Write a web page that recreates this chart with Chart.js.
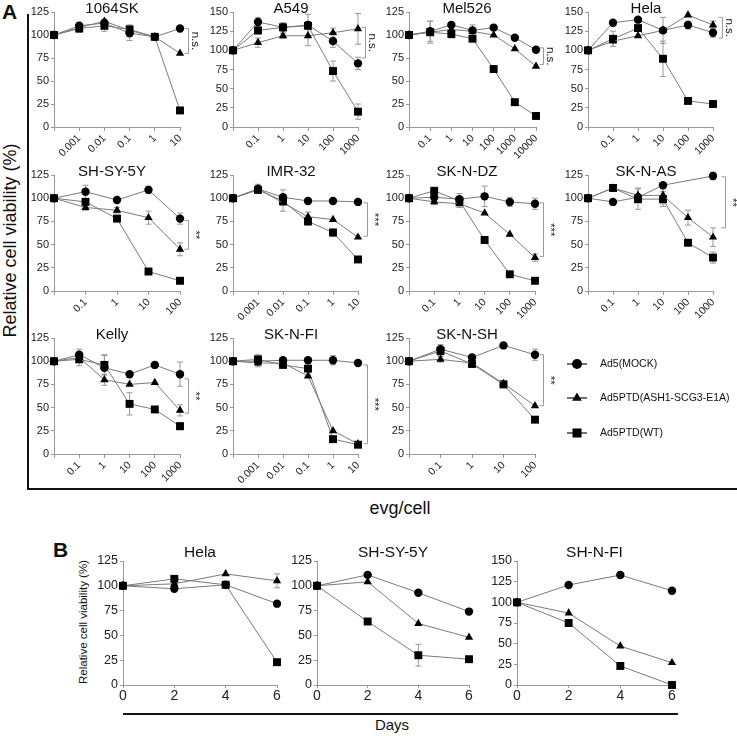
<!DOCTYPE html>
<html lang="en">
<head>
<meta charset="UTF-8" />
<title>Relative cell viability</title>
<script src="https://cdn.jsdelivr.net/npm/chart.js"></script>
<style>
  body { margin: 0; background: #fff; width: 737px; height: 736px; position: relative; overflow: hidden;
         font-family: "Liberation Sans", Arial, sans-serif; color: #111; }
  canvas { position: absolute; }
  .txt { position: absolute; white-space: nowrap; }
</style>
</head>
<body>
<div class="txt" style="left:2px;top:0px;font-size:21px;font-weight:bold;">A</div>
<div class="txt" style="left:53px;top:538px;font-size:21px;font-weight:bold;">B</div>
<div style="position:absolute;left:27px;top:14px;width:2px;height:476px;background:#111;"></div>
<div style="position:absolute;left:27px;top:488px;width:720px;height:2px;background:#111;"></div>
<div class="txt" style="left:-110px;top:230px;width:240px;text-align:center;font-size:18px;transform:rotate(-90deg);">Relative cell viability (%)</div>
<div class="txt" style="left:330px;top:498px;width:140px;text-align:center;font-size:18px;">evg/cell</div>
<div class="txt" style="left:-17px;top:616px;width:200px;text-align:center;font-size:11.5px;transform:rotate(-90deg);">Relative cell viability (%)</div>
<div style="position:absolute;left:123px;top:713px;width:555px;height:2px;background:#111;"></div>
<div class="txt" style="left:342px;top:716px;width:100px;text-align:center;font-size:15px;">Days</div>

<script>
  // ---- data ----
  const ticks1064SK = ['', '0.001', '0.01', '0.1', '1', '10'];
  const mock1064SK = [100, 110, 113, 102, 98, 107];
  const ash1064SK = [100, 108, 115, 105, 98, 80];
  const wt1064SK = [100, 107, 110, 106, 98, 18];
  const errMock1064SK = [0, 3, 4, 8, 0, 0];
  const errWt1064SK = [0, 4, 6, 5, 0, 0];
  const sig1064SK = [107, 80, 'n.s.'];

  const ticksA549 = ['', '0.1', '1', '10', '100', '1000'];
  const mockA549 = [100, 137, 130, 133, 112, 83];
  const ashA549 = [100, 110, 119, 119, 123, 128];
  const wtA549 = [100, 126, 130, 132, 73, 20];
  const errMockA549 = [0, 6, 4, 4, 8, 8];
  const errAshA549 = [0, 6, 3, 13, 6, 20];
  const errWtA549 = [0, 5, 6, 15, 13, 10];
  const sigA549 = [130, 90, 'n.s.'];

  const ticksMel526 = ['', '0.1', '1', '10', '100', '1000', '10000'];
  const mockMel526 = [100, 104, 111, 105, 108, 97, 84];
  const ashMel526 = [100, 103, 106, 104, 100, 85, 66];
  const wtMel526 = [100, 103, 101, 96, 63, 27, 12];
  const errMockMel526 = [0, 11, 3, 6, 3, 0, 0];
  const errWtMel526 = [0, 12, 4, 3, 0, 0, 0];
  const sigMel526 = [86, 68, 'n.s.'];

  const ticksHela = ['', '0.1', '1', '10', '100', '1000'];
  const mockHela = [100, 136, 140, 126, 133, 123];
  const ashHela = [100, 112, 119, 126, 146, 133];
  const wtHela = [100, 115, 129, 89, 34, 30];
  const errMockHela = [0, 0, 0, 0, 5, 6];
  const errAshHela = [0, 7, 0, 17, 0, 5];
  const errWtHela = [0, 10, 4, 23, 0, 0];
  const sigHela = [143, 116, 'n.s.'];

  const ticksSHSY5Y = ['', '0.1', '1', '10', '100'];
  const mockSHSY5Y = [100, 107, 98, 109, 78];
  const ashSHSY5Y = [100, 90, 87, 79, 45];
  const wtSHSY5Y = [100, 96, 78, 21, 11];
  const errMockSHSY5Y = [0, 7, 0, 4, 6];
  const errAshSHSY5Y = [0, 3, 3, 7, 7];
  const sigSHSY5Y = [76, 45, '**'];

  const ticksIMR32 = ['', '0.001', '0.01', '0.1', '1', '10'];
  const mockIMR32 = [100, 110, 101, 97, 97, 96];
  const ashIMR32 = [100, 110, 95, 80, 77, 58];
  const wtIMR32 = [100, 109, 97, 75, 63, 34];
  const errMockIMR32 = [0, 5, 8, 0, 0, 0];
  const errAshIMR32 = [0, 4, 9, 5, 0, 0];
  const errWtIMR32 = [0, 3, 5, 4, 4, 0];
  const sigIMR32 = [95, 59, '***'];

  const ticksSKNDZ = ['', '0.1', '1', '10', '100', '1000'];
  const mockSKNDZ = [100, 101, 99, 102, 96, 94];
  const ashSKNDZ = [100, 96, 94, 84, 61, 36];
  const wtSKNDZ = [100, 108, 97, 55, 18, 11];
  const errMockSKNDZ = [0, 4, 6, 11, 5, 6];
  const errAshSKNDZ = [0, 3, 4, 0, 0, 4];
  const sigSKNDZ = [95, 37, '***'];

  const ticksSKNAS = ['', '0.1', '1', '10', '100', '1000'];
  const mockSKNAS = [100, 96, 101, 114, null, 124];
  const ashSKNAS = [100, 111, 103, 103, 79, 58];
  const wtSKNAS = [100, 111, 99, 99, 52, 36];
  const errMockSKNAS = [0, 0, 0, 0, 0, 4];
  const errAshSKNAS = [0, 3, 8, 9, 8, 10];
  const errWtSKNAS = [0, 3, 11, 8, 0, 6];
  const sigSKNAS = [123, 68, '**'];

  const ticksKelly = ['', '0.1', '1', '10', '100', '1000'];
  const mockKelly = [100, 107, 93, 86, 96, 86];
  const ashKelly = [100, 104, 80, 75, 77, 47];
  const wtKelly = [100, 102, 96, 54, 48, 30];
  const errMockKelly = [0, 6, 13, 0, 0, 13];
  const errAshKelly = [0, 5, 6, 0, 0, 6];
  const errWtKelly = [0, 7, 11, 12, 0, 4];
  const sigKelly = [81, 44, '**'];

  const ticksSKNFI = ['', '0.001', '0.01', '0.1', '1', '10'];
  const mockSKNFI = [100, 100, 101, 101, 101, 98];
  const ashSKNFI = [100, 98, 98, 84, 25, 11];
  const wtSKNFI = [100, 102, 96, 92, 16, 10];
  const errMockSKNFI = [0, 0, 0, 0, 5, 0];
  const errAshSKNFI = [0, 4, 3, 0, 0, 0];
  const errWtSKNFI = [0, 5, 0, 0, 0, 0];
  const sigSKNFI = [96, 11, '***'];

  const ticksSKNSH = ['', '0.1', '1', '10', '100'];
  const mockSKNSH = [100, 113, 104, 117, 107];
  const ashSKNSH = [100, 102, 98, 76, 52];
  const wtSKNSH = [100, 111, 97, 75, 37];
  const errMockSKNSH = [0, 5, 0, 0, 6];
  const errAshSKNSH = [0, 3, 0, 3, 0];
  const errWtSKNSH = [0, 5, 3, 3, 0];
  const sigSKNSH = [107, 52, '**'];

  // panel B, time course
  const days = [0, 2, 4, 6];
  const mockHelaB = [100, 97, 101, 82];
  const ashHelaB = [100, 102, 112, 105];
  const wtHelaB = [100, 107, 101, 23];
  const errAshHelaB = [0, 0, 0, 7];
  const mockSHSY5YB = [100, 111, 93, 74];
  const ashSHSY5YB = [100, 104, 62, 48];
  const wtSHSY5YB = [100, 64, 30, 26];
  const errWtSHSY5YB = [0, 0, 11, 0];
  const mockSHNFIB = [100, 121, 133, 114];
  const ashSHNFIB = [100, 87, 47, 27];
  const wtSHNFIB = [100, 75, 23, 0];

  const seriesNames = ['Ad5(MOCK)', 'Ad5PTD(ASH1-SCG3-E1A)', 'Ad5PTD(WT)'];

  // ---- drawing ----
  const FONT = '"Liberation Sans", Arial, sans-serif';
  const AXIS = '#999';
  const LINE = '#7a7a7a';
  Chart.defaults.font.family = FONT;
  Chart.defaults.color = '#222';

  const PAD_L = 45, PAD_T = 22, PAD_B = 50;

  const errorBars = {
    id: 'errorBars',
    beforeDatasetsDraw(chart) {
      const ctx = chart.ctx, ys = chart.scales.y;
      chart.data.datasets.forEach((ds, i) => {
        if (!ds.err) return;
        chart.getDatasetMeta(i).data.forEach((pt, j) => {
          const e = ds.err[j], d = ds.data[j];
          if (!e || d == null) return;
          const v = typeof d === 'object' ? d.y : d;
          const y1 = ys.getPixelForValue(v + e), y2 = ys.getPixelForValue(v - e);
          ctx.save();
          ctx.strokeStyle = AXIS; ctx.lineWidth = 1;
          ctx.beginPath();
          ctx.moveTo(pt.x, y1); ctx.lineTo(pt.x, y2);
          ctx.moveTo(pt.x - 3, y1); ctx.lineTo(pt.x + 3, y1);
          ctx.moveTo(pt.x - 3, y2); ctx.lineTo(pt.x + 3, y2);
          ctx.stroke();
          ctx.restore();
        });
      });
    }
  };

  const sigBracket = {
    id: 'sigBracket',
    afterDraw(chart, args, o) {
      if (!o || !o.marks) return;
      const [v1, v2, label] = o.marks;
      const ys = chart.scales.y, a = chart.chartArea, ctx = chart.ctx;
      const x = Math.round(a.right + o.dx) + 0.5;
      const y1 = ys.getPixelForValue(v1), y2 = ys.getPixelForValue(v2);
      ctx.save();
      ctx.strokeStyle = AXIS; ctx.lineWidth = 1;
      ctx.beginPath();
      ctx.moveTo(x - 4, y1); ctx.lineTo(x, y1); ctx.lineTo(x, y2); ctx.lineTo(x - 4, y2);
      ctx.stroke();
      ctx.translate(x + 7, (y1 + y2) / 2);
      ctx.rotate(Math.PI / 2);
      ctx.fillStyle = '#222';
      ctx.font = '11.5px ' + FONT;
      ctx.textAlign = 'center'; ctx.textBaseline = 'middle';
      ctx.fillText(label, 0, 0);
      ctx.restore();
    }
  };

  const panelTitle = {
    id: 'panelTitle',
    afterDraw(chart, args, o) {
      if (!o || !o.text) return;
      const a = chart.chartArea, ctx = chart.ctx;
      ctx.save();
      ctx.font = o.size + 'px ' + FONT;
      ctx.fillStyle = '#111'; ctx.textAlign = 'center'; ctx.textBaseline = 'middle';
      const x = o.center ? (a.left + a.right) / 2 : a.left + o.dx;
      ctx.fillText(o.text, x, a.top + o.dy);
      ctx.restore();
    }
  };

  const sideLegend = {
    id: 'sideLegend',
    afterDraw(chart, args, o) {
      if (!o || !o.items) return;
      const ctx = chart.ctx;
      chart.data.datasets.forEach((ds, i) => {
        const y = o.y[i] - o.oy, x0 = o.x - o.ox;
        ctx.save();
        ctx.strokeStyle = '#111'; ctx.lineWidth = 1.2;
        ctx.beginPath(); ctx.moveTo(x0, y); ctx.lineTo(x0 + 20, y); ctx.stroke();
        ctx.fillStyle = '#000'; ctx.strokeStyle = '#000';
        Chart.helpers.drawPoint(ctx, { pointStyle: ds.pointStyle, radius: ds.pointRadius + 0.8, borderWidth: 0, rotation: 0 }, x0 + 10, y);
        ctx.fillStyle = '#111';
        ctx.font = '10.5px ' + FONT;
        ctx.textBaseline = 'middle';
        ctx.fillText(o.items[i], x0 + 33, y);
        ctx.restore();
      });
    }
  };

  function series(data, err, style, radius, xs) {
    return {
      data: xs ? data.map((v, i) => ({ x: xs[i], y: v })) : data,
      err: err || null,
      pointStyle: style, pointRadius: radius, pointHoverRadius: radius,
      pointBackgroundColor: '#000', pointBorderColor: '#000', pointBorderWidth: 0,
      borderColor: LINE, borderWidth: 1, tension: 0, clip: false, spanGaps: true
    };
  }

  function panel(p) {
    const w = PAD_L + (p.r - p.l) + p.padR;
    const h = PAD_T + (p.b - p.t) + PAD_B;
    const c = document.createElement('canvas');
    c.width = w; c.height = h;
    c.style.left = (p.l - PAD_L) + 'px';
    c.style.top = (p.t - PAD_T) + 'px';
    c.style.width = w + 'px'; c.style.height = h + 'px';
    document.body.appendChild(c);

    const isB = !!p.days;
    const xScale = isB ? {
      type: 'linear', min: 0, max: 6, offset: false,
      ticks: { stepSize: 2, font: { size: 14 }, color: '#222', padding: 0, maxRotation: 0 },
      grid: { drawOnChartArea: false, color: AXIS, tickLength: 3 },
      border: { color: AXIS },
      afterFit: s => { s.height = PAD_B; }
    } : {
      type: 'category', offset: false,
      ticks: { autoSkip: false, minRotation: 45, maxRotation: 45, font: { size: 10.5 }, color: '#222', padding: 1 },
      grid: { drawOnChartArea: false, color: AXIS, tickLength: 4 },
      border: { color: AXIS },
      afterFit: s => { s.height = PAD_B; }
    };

    const ds = [
      series(p.mock, p.errMock, 'circle', 4.2, p.days),
      series(p.ash, p.errAsh, 'triangle', 4.8, p.days),
      series(p.wt, p.errWt, 'rect', 5.6, p.days)
    ];

    return new Chart(c.getContext('2d'), {
      type: 'line',
      data: { labels: p.ticks || [], datasets: ds },
      options: {
        responsive: false, animation: false,
        layout: { padding: { top: PAD_T, right: p.padR, left: 0, bottom: 0 } },
        plugins: {
          legend: { display: false }, tooltip: { enabled: false },
          panelTitle: { text: p.title, size: isB ? 15.5 : 15, dx: 58, dy: isB ? -8 : -3, center: isB },
          sigBracket: { marks: p.sig, dx: p.sigDx || 8 },
          sideLegend: p.legend || {}
        },
        scales: {
          x: xScale,
          y: {
            min: 0, max: p.ymax,
            ticks: { stepSize: 25, font: { size: isB ? 12.5 : 11 }, color: '#222', padding: 2 },
            grid: { drawOnChartArea: false, color: AXIS, tickLength: 3 },
            border: { color: AXIS },
            afterFit: s => { s.width = PAD_L; }
          }
        }
      },
      plugins: [errorBars, sigBracket, panelTitle, sideLegend]
    });
  }

  // row 1
  panel({ title: '1064SK', l: 54, r: 180, t: 12, b: 127, padR: 30, ymax: 125, ticks: ticks1064SK,
    mock: mock1064SK, ash: ash1064SK, wt: wt1064SK, errMock: errMock1064SK, errWt: errWt1064SK, sig: sig1064SK });
  panel({ title: 'A549', l: 233, r: 358, t: 12, b: 127, padR: 30, ymax: 150, ticks: ticksA549,
    mock: mockA549, ash: ashA549, wt: wtA549, errMock: errMockA549, errAsh: errAshA549, errWt: errWtA549, sig: sigA549, sigDx: 7 });
  panel({ title: 'Mel526', l: 409, r: 536, t: 12, b: 127, padR: 30, ymax: 125, ticks: ticksMel526,
    mock: mockMel526, ash: ashMel526, wt: wtMel526, errMock: errMockMel526, errWt: errWtMel526, sig: sigMel526, sigDx: 7 });
  panel({ title: 'Hela', l: 588, r: 713, t: 12, b: 127, padR: 30, ymax: 150, ticks: ticksHela,
    mock: mockHela, ash: ashHela, wt: wtHela, errMock: errMockHela, errAsh: errAshHela, errWt: errWtHela, sig: sigHela, sigDx: 9 });

  // row 2
  panel({ title: 'SH-SY-5Y', l: 54, r: 180, t: 175, b: 291, padR: 30, ymax: 125, ticks: ticksSHSY5Y,
    mock: mockSHSY5Y, ash: ashSHSY5Y, wt: wtSHSY5Y, errMock: errMockSHSY5Y, errAsh: errAshSHSY5Y, sig: sigSHSY5Y });
  panel({ title: 'IMR-32', l: 233, r: 358, t: 175, b: 291, padR: 30, ymax: 125, ticks: ticksIMR32,
    mock: mockIMR32, ash: ashIMR32, wt: wtIMR32, errMock: errMockIMR32, errAsh: errAshIMR32, errWt: errWtIMR32, sig: sigIMR32, sigDx: 9 });
  panel({ title: 'SK-N-DZ', l: 409, r: 535, t: 175, b: 291, padR: 30, ymax: 125, ticks: ticksSKNDZ,
    mock: mockSKNDZ, ash: ashSKNDZ, wt: wtSKNDZ, errMock: errMockSKNDZ, errAsh: errAshSKNDZ, sig: sigSKNDZ });
  panel({ title: 'SK-N-AS', l: 588, r: 713, t: 175, b: 291, padR: 30, ymax: 125, ticks: ticksSKNAS,
    mock: mockSKNAS, ash: ashSKNAS, wt: wtSKNAS, errMock: errMockSKNAS, errAsh: errAshSKNAS, errWt: errWtSKNAS, sig: sigSKNAS, sigDx: 12 });

  // row 3
  panel({ title: 'Kelly', l: 54, r: 180, t: 338, b: 454, padR: 30, ymax: 125, ticks: ticksKelly,
    mock: mockKelly, ash: ashKelly, wt: wtKelly, errMock: errMockKelly, errAsh: errAshKelly, errWt: errWtKelly, sig: sigKelly });
  panel({ title: 'SK-N-FI', l: 233, r: 358, t: 338, b: 454, padR: 30, ymax: 125, ticks: ticksSKNFI,
    mock: mockSKNFI, ash: ashSKNFI, wt: wtSKNFI, errMock: errMockSKNFI, errAsh: errAshSKNFI, errWt: errWtSKNFI, sig: sigSKNFI, sigDx: 9 });
  panel({ title: 'SK-N-SH', l: 409, r: 535, t: 338, b: 454, padR: 202, ymax: 125, ticks: ticksSKNSH,
    mock: mockSKNSH, ash: ashSKNSH, wt: wtSKNSH, errMock: errMockSKNSH, errAsh: errAshSKNSH, errWt: errWtSKNSH, sig: sigSKNSH,
    legend: { items: seriesNames, x: 567, y: [364, 398, 433], ox: 409 - PAD_L, oy: 338 - PAD_T } });

  // panel B
  panel({ title: 'Hela', l: 123, r: 277, t: 561, b: 685, padR: 20, ymax: 125, days: days,
    mock: mockHelaB, ash: ashHelaB, wt: wtHelaB, errAsh: errAshHelaB });
  panel({ title: 'SH-SY-5Y', l: 317, r: 469, t: 561, b: 685, padR: 20, ymax: 125, days: days,
    mock: mockSHSY5YB, ash: ashSHSY5YB, wt: wtSHSY5YB, errWt: errWtSHSY5YB });
  panel({ title: 'SH-N-FI', l: 517, r: 672, t: 561, b: 685, padR: 20, ymax: 150, days: days,
    mock: mockSHNFIB, ash: ashSHNFIB, wt: wtSHNFIB });
</script>
</body>
</html>
